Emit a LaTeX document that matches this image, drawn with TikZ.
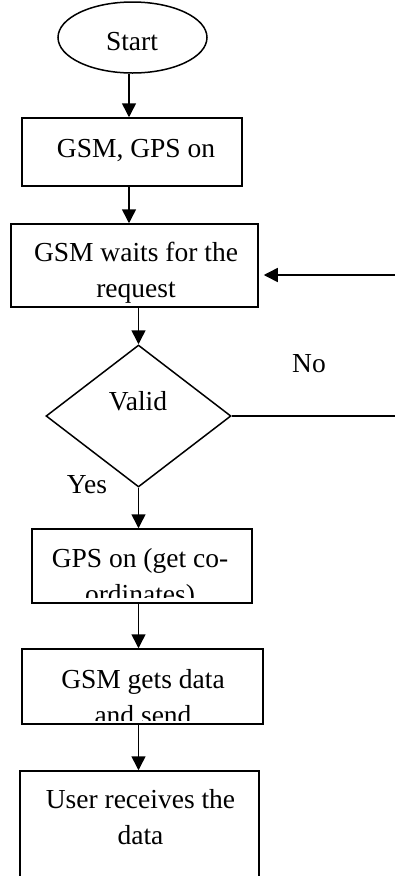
\documentclass[tikz,border=0pt]{standalone}
\usepackage{fontspec}
\setmainfont{Liberation Serif}
\usetikzlibrary{arrows.meta,shapes.geometric,calc}
\newcommand{\mylines}[1]{\parbox[t]{300pt}{\centering #1}}
\begin{document}
\begin{tikzpicture}[x=1pt,y=-1pt,
  line width=1.5pt,
  box/.style={draw, rectangle, inner sep=0pt, line width=1.5pt},
  txt/.style={font=\fontsize{27.5}{36.5}\selectfont, inner sep=0pt, anchor=base},
  arr/.style={-{Triangle[length=14pt,width=14pt]}, line width=1.5pt}]
\useasboundingbox (0,0) rectangle (395,876);
\clip (0,0) rectangle (395,876);

% shapes
\node[box, ellipse, minimum width=149pt, minimum height=71pt] (start) at (132.5,37.5) {};
\node[box, minimum width=220pt, minimum height=68pt] (b1) at (132,152) {};
\node[box, minimum width=247pt, minimum height=83pt] (b2) at (134.5,265.5) {};
\node[box, diamond, minimum width=185pt, minimum height=142pt] (valid) at (138.5,416) {};
\node[box, minimum width=220pt, minimum height=74pt] (b3) at (142,566) {};
\node[box, minimum width=241pt, minimum height=75pt] (b4) at (142.5,686.5) {};
\node[box, minimum width=239pt, minimum height=130pt] (b5) at (139.5,836) {};

% texts
\node[txt] (tstart) at (132,50) {Start};
\node[txt] (t1) at (136,157) {GSM, GPS on};
\node[txt] (t2) at (136,261) {\mylines{GSM waits for the\\request}};
\begin{scope}
  \clip (33,530) rectangle (251,597);
  \node[txt] (t3) at (140,567) {\mylines{GPS on (get co-\\ordinates)}};
\end{scope}
\begin{scope}
  \clip (23,650) rectangle (262,720);
  \node[txt] (t4) at (143,688) {\mylines{GSM gets data\\and send}};
\end{scope}
\node[txt] (t5) at (140.5,808) {\mylines{User receives the\\data}};
\node[txt] (tvalid) at (138,410) {Valid};
\node[txt] (tno) at (309,372) {No};
\node[txt] (tyes) at (87,493) {Yes};

% connectors
\coordinate (xA) at (129,0);
\coordinate (xB) at (138.5,0);
\coordinate (re) at (396,0);
\coordinate (ret) at (396,275);
\draw[arr] (start.south -| xA) -- (b1.north -| xA);
\draw[arr] (b1.south -| xA) -- (b2.north -| xA);
\draw[arr] (b2.south -| xB) -- (valid.north);
\draw[arr] (valid.south) -- (b3.north -| xB);
\draw[arr] (b3.south -| xB) -- (b4.north -| xB);
\draw[arr] (b4.south -| xB) -- (b5.north -| xB);
\draw (valid.east) -- (valid.east -| re);
\draw[arr] (ret) -- ($(b2.east |- ret)+(5,0)$);
\end{tikzpicture}
\end{document}
